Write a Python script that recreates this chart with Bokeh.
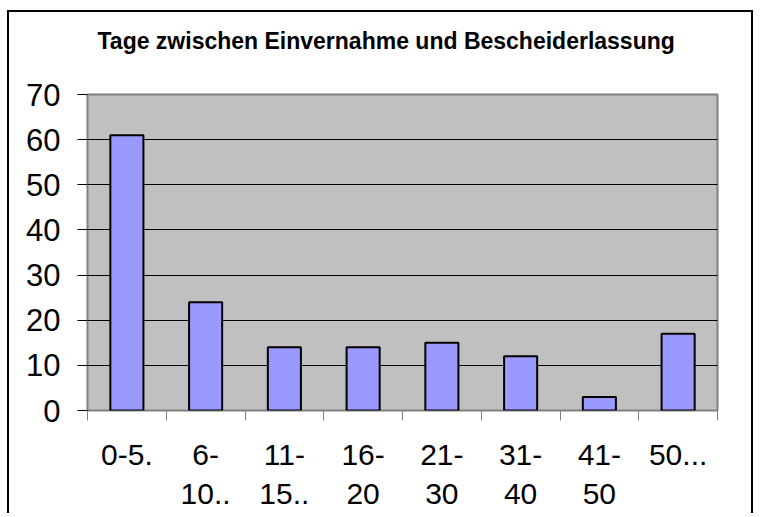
from bokeh.plotting import figure
from bokeh.models import Range1d, FixedTicker, Title
from bokeh.embed import file_html
from bokeh.resources import INLINE

categories = ["0-5.", "6-\n10..", "11-\n15..", "16-\n20", "21-\n30", "31-\n40", "41-\n50", "50..."]
values = [61, 24, 14, 14, 15, 12, 3, 17]
y_ticks = [0, 10, 20, 30, 40, 50, 60, 70]
title_text = "Tage zwischen Einvernahme und Bescheiderlassung"

positions = list(range(len(categories)))
boundaries = [i - 0.5 for i in range(len(categories) + 1)]

FONT = "Liberation Sans"

p = figure(frame_width=630, frame_height=316, output_backend="svg", toolbar_location=None,
           x_range=Range1d(-0.5, len(categories) - 0.5), y_range=Range1d(0, 70),
           min_border_left=78, min_border_right=34, min_border_top=82, min_border_bottom=103)
p.styles = {"border-top": "2px solid black", "border-left": "2px solid black",
            "border-right": "2px solid black", "margin-left": "7px", "margin-top": "10px"}

p.background_fill_color = "#C0C0C0"
p.border_fill_color = "white"
p.outline_line_color = "#808080"
p.outline_line_width = 2

# spacer between title and plot area (closest to the frame)
p.add_layout(Title(text=" ", text_font_size="1px", standoff=33), "above")
p.add_layout(Title(text=title_text, align="left", offset=10, standoff=10,
                   text_font=FONT, text_font_size="23px", text_font_style="bold",
                   text_color="black"), "above")

p.vbar(x=positions, top=values, width=0.42, fill_color="#9999FF",
       line_color="black", line_width=2)

p.xgrid.visible = False
p.ygrid.ticker = FixedTicker(ticks=y_ticks[:-1])
p.ygrid.grid_line_color = "black"
p.ygrid.grid_line_width = 1

ya = p.yaxis[0]
ya.ticker = FixedTicker(ticks=y_ticks)
ya.axis_line_color = None
ya.major_tick_line_color = "black"
ya.major_tick_out = 10
ya.major_tick_in = 0
ya.minor_tick_line_color = None
ya.major_label_standoff = 17
ya.major_label_text_font = FONT
ya.major_label_text_font_size = "31px"
ya.major_label_text_color = "black"

xa = p.xaxis[0]
xa.ticker = FixedTicker(ticks=positions, minor_ticks=boundaries)
xa.axis_line_color = None
xa.major_tick_line_color = None
xa.major_tick_out = 0
xa.major_tick_in = 0
xa.minor_tick_line_color = "#808080"
xa.minor_tick_out = 10
xa.minor_tick_in = 0
xa.major_label_overrides = {i: c for i, c in zip(positions, categories)}
xa.major_label_standoff = 17
xa.major_label_text_font = FONT
xa.major_label_text_font_size = "30px"
xa.major_label_text_color = "black"

open("out.html", "w").write(file_html(p, INLINE))
